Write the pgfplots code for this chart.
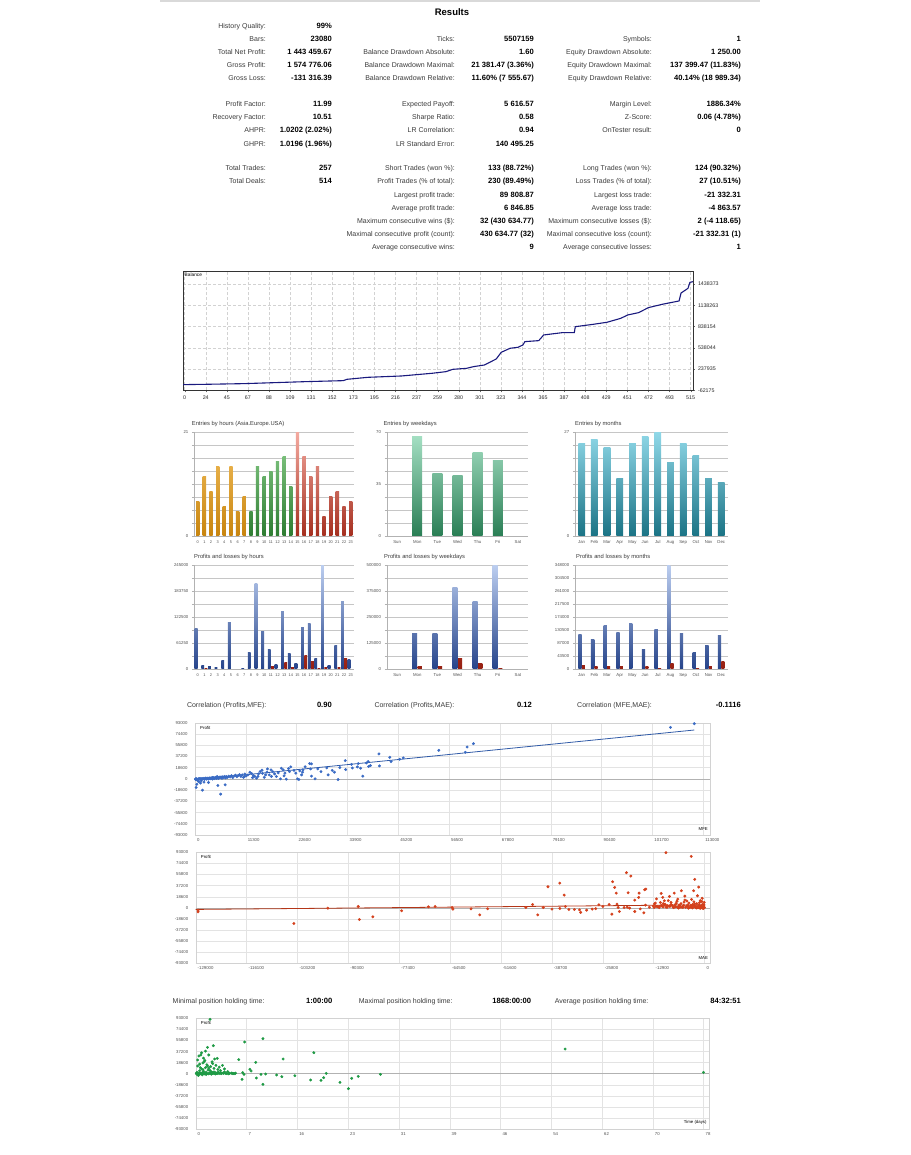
\documentclass[border=0pt]{standalone}
\usepackage{fontspec}
\setmainfont{Liberation Sans}
\usepackage{pgfplots}
\pgfplotsset{compat=1.18}

\definecolor{lab}{HTML}{3A3A3A}
\definecolor{tick}{HTML}{505050}
\definecolor{OL}{HTML}{F5C262}
\definecolor{OD}{HTML}{C8850F}
\definecolor{GL}{HTML}{8FD28F}
\definecolor{GD}{HTML}{2E7D32}
\definecolor{RL}{HTML}{F4AAA0}
\definecolor{RD}{HTML}{A52F1F}
\definecolor{WL}{HTML}{A8E2C6}
\definecolor{WD}{HTML}{2A7E55}
\definecolor{ML}{HTML}{90D8E8}
\definecolor{MD}{HTML}{1B7385}
\definecolor{BL}{HTML}{BCCEF0}
\definecolor{BD}{HTML}{26448A}
\definecolor{PL}{HTML}{E0604C}
\definecolor{PD}{HTML}{962012}
\definecolor{balc}{HTML}{1A1A7E}
\definecolor{mfe}{HTML}{3A6BC4}
\definecolor{mae}{HTML}{D4401C}
\definecolor{hold}{HTML}{1F9A45}

\newcommand\fs[1]{\fontsize{#1}{#1}\selectfont}
% one shaded bar: x, y, light, dark, axis max, options
\newcommand\gbar[6]{\edef\tmp{\noexpand\addplot[ybar,draw=none,#6,top color=#3!\fpeval{round(100*#2/#5)}!#4,bottom color=#4] coordinates {(#1,#2)};}\tmp}
\newcommand\slab[3]{\node[anchor=base east,inner sep=0pt,font=\fs{7},text=lab] at (#1pt,-#2pt) {#3};}
\newcommand\sval[3]{\node[anchor=base east,inner sep=0pt,font=\bfseries\fs{7.6}] at (#1pt,-#2pt) {#3};}
\newcommand\llab[3]{\node[anchor=base west,inner sep=0pt,font=\fs{7},text=lab] at (#1pt,-#2pt) {#3};}

\pgfplotsset{
  barchart/.style={scale only axis, anchor=south west, ymin=0, enlargelimits=false, scaled ticks=false,
    axis x line=bottom, axis y line=left, axis line style={draw=gray!60,-},
    ymajorgrids, grid style={gray!45, line width=0.35pt},
    tick align=outside, major tick length=2.5pt, ytick style={gray!60}, xtick style={draw=none},
    tick label style={font=\fs{4.3}, text=tick}, xticklabel style={yshift=1pt}},
  scat/.style={scale only axis, anchor=south west, xmajorgrids, ymajorgrids, scaled ticks=false,
    grid style={gray!22, line width=0.4pt}, axis line style={gray!35}, major tick length=0pt,
    ymin=-93000, ymax=93000,
    ytick={-93000,-74400,-55800,-37200,-18600,0,18600,37200,55800,74400,93000},
    yticklabels={-93000,-74400,-55800,-37200,-18600,0,18600,37200,55800,74400,93000},
    tick label style={font=\fs{4.3}, text=tick},
    xticklabel style={anchor=north west, xshift=-1.5pt},
    yticklabel style={xshift=-4pt},
    extra y ticks={0}, extra y tick labels={},
    extra y tick style={grid style={gray!60, line width=0.5pt}}},
}

\begin{document}
\begin{tikzpicture}
\path[use as bounding box] (0pt,0pt) rectangle (910pt,-1155pt);
\fill[gray!30] (160pt,0pt) rectangle (760pt,-2.5pt);
\node[font=\bfseries\fs{9.5}] at (452pt,-11.7pt) {Results};

% ---- statistics table
\slab{266}{28.2}{History Quality:}\sval{332}{28.2}{99\%}
\slab{266}{41.4}{Bars:}\sval{332}{41.4}{23080}
\slab{455}{41.4}{Ticks:}\sval{534}{41.4}{5507159}
\slab{652}{41.4}{Symbols:}\sval{741}{41.4}{1}
\slab{266}{54.5}{Total Net Profit:}\sval{332}{54.5}{1 443 459.67}
\slab{455}{54.5}{Balance Drawdown Absolute:}\sval{534}{54.5}{1.60}
\slab{652}{54.5}{Equity Drawdown Absolute:}\sval{741}{54.5}{1 250.00}
\slab{266}{67.7}{Gross Profit:}\sval{332}{67.7}{1 574 776.06}
\slab{455}{67.7}{Balance Drawdown Maximal:}\sval{534}{67.7}{21 381.47 (3.36\%)}
\slab{652}{67.7}{Equity Drawdown Maximal:}\sval{741}{67.7}{137 399.47 (11.83\%)}
\slab{266}{80.9}{Gross Loss:}\sval{332}{80.9}{-131 316.39}
\slab{455}{80.9}{Balance Drawdown Relative:}\sval{534}{80.9}{11.60\% (7 555.67)}
\slab{652}{80.9}{Equity Drawdown Relative:}\sval{741}{80.9}{40.14\% (18 989.34)}
\slab{266}{106.7}{Profit Factor:}\sval{332}{106.7}{11.99}
\slab{455}{106.7}{Expected Payoff:}\sval{534}{106.7}{5 616.57}
\slab{652}{106.7}{Margin Level:}\sval{741}{106.7}{1886.34\%}
\slab{266}{119.8}{Recovery Factor:}\sval{332}{119.8}{10.51}
\slab{455}{119.8}{Sharpe Ratio:}\sval{534}{119.8}{0.58}
\slab{652}{119.8}{Z-Score:}\sval{741}{119.8}{0.06 (4.78\%)}
\slab{266}{133}{AHPR:}\sval{332}{133}{1.0202 (2.02\%)}
\slab{455}{133}{LR Correlation:}\sval{534}{133}{0.94}
\slab{652}{133}{OnTester result:}\sval{741}{133}{0}
\slab{266}{146.1}{GHPR:}\sval{332}{146.1}{1.0196 (1.96\%)}
\slab{455}{146.1}{LR Standard Error:}\sval{534}{146.1}{140 495.25}
\slab{266}{170.8}{Total Trades:}\sval{332}{170.8}{257}
\slab{455}{170.8}{Short Trades (won \%):}\sval{534}{170.8}{133 (88.72\%)}
\slab{652}{170.8}{Long Trades (won \%):}\sval{741}{170.8}{124 (90.32\%)}
\slab{266}{184}{Total Deals:}\sval{332}{184}{514}
\slab{455}{184}{Profit Trades (\% of total):}\sval{534}{184}{230 (89.49\%)}
\slab{652}{184}{Loss Trades (\% of total):}\sval{741}{184}{27 (10.51\%)}
\slab{455}{197.2}{Largest profit trade:}\sval{534}{197.2}{89 808.87}
\slab{652}{197.2}{Largest loss trade:}\sval{741}{197.2}{-21 332.31}
\slab{455}{210.4}{Average profit trade:}\sval{534}{210.4}{6 846.85}
\slab{652}{210.4}{Average loss trade:}\sval{741}{210.4}{-4 863.57}
\slab{455}{223.5}{Maximum consecutive wins (\$):}\sval{534}{223.5}{32 (430 634.77)}
\slab{652}{223.5}{Maximum consecutive losses (\$):}\sval{741}{223.5}{2 (-4 118.65)}
\slab{455}{236.7}{Maximal consecutive profit (count):}\sval{534}{236.7}{430 634.77 (32)}
\slab{652}{236.7}{Maximal consecutive loss (count):}\sval{741}{236.7}{-21 332.31 (1)}
\slab{455}{249.9}{Average consecutive wins:}\sval{534}{249.9}{9}
\slab{652}{249.9}{Average consecutive losses:}\sval{741}{249.9}{1}

% ---- balance
\begin{axis}[scale only axis, anchor=south west, at={(183pt,-390.3pt)}, width=510pt, height=119.3pt,
  xmin=1, xmax=517.1, ymin=-62175, ymax=1621900, scaled ticks=false,
  xtick={2.67,24,45.33,66.67,88,109.33,130.67,152,173.33,194.67,216,237.33,258.67,280,301.33,322.67,344,365.33,386.67,408,429.33,450.67,472,493.33,514.67},
  xticklabels={0,24,45,67,88,109,131,152,173,195,216,237,259,280,301,323,344,365,387,408,429,451,472,493,515},
  ytick={-62175,237935,538044,838154,1138263,1438373},
  yticklabels={-62175,237935,538044,838154,1138263,1438373},
  yticklabel pos=right, xtick pos=bottom, ytick pos=right,
  xmajorgrids, ymajorgrids, grid style={densely dashed, gray!35, line width=0.4pt},
  axis line style={black!80, line width=0.5pt},
  tick align=outside, major tick length=2pt, tick style={black!60},
  tick label style={font=\fs{5.3}, text=black!85},
  yticklabel style={xshift=-0.5pt}]
\addplot[balc, line width=1.1pt] coordinates {
(1,17800)(24,22500)(63,32000)(94,46000)(125,60000)(163,74000)(167,93000)(188,121000)
(222,140000)(253,178000)(267,201000)(274,234000)(288,248000)(295,272000)(306,295000)
(318,380000)(323,474000)(332,531000)(340,545000)(345,578000)(347,625000)(361,639000)
(366,719000)(385,752000)(397,752000)(398,836000)(416,869000)(430,898000)(444,954000)
(451,1001000)(462,1034000)(472,1105000)(486,1152000)(503,1199000)(505,1311000)
(512,1377000)(514,1462000)(517,1471000)};
\node[anchor=north west, font=\fs{4.8}, inner sep=1.5pt] at (rel axis cs:0,1) {Balance};
\end{axis}

% ---- entries by hours
\node[anchor=west, font=\fs{5.8}, text=lab, inner sep=0pt] at (191.7pt,-424pt) {Entries by hours (Asia.Europe.USA)};
\begin{axis}[barchart, at={(194.4pt,-535.7pt)}, width=159.6pt, height=103.4pt,
  xmin=-0.5, xmax=23.5, ymax=21,
  ytick={0,2.625,5.25,7.875,10.5,13.125,15.75,18.375,21}, yticklabels={0,,,,,,,,21},
  xtick={0,1,2,3,4,5,6,7,8,9,10,11,12,13,14,15,16,17,18,19,20,21,22,23},
  xticklabels={0,1,2,3,4,5,6,7,8,9,10,11,12,13,14,15,16,17,18,19,20,21,22,23},
  xticklabel style={font=\fs{3.9}}]
\gbar{0}{7}{OL}{OD}{21}{bar width=3.3pt,bar shift=0pt}
\gbar{1}{12}{OL}{OD}{21}{bar width=3.3pt,bar shift=0pt}
\gbar{2}{9}{OL}{OD}{21}{bar width=3.3pt,bar shift=0pt}
\gbar{3}{14}{OL}{OD}{21}{bar width=3.3pt,bar shift=0pt}
\gbar{4}{6}{OL}{OD}{21}{bar width=3.3pt,bar shift=0pt}
\gbar{5}{14}{OL}{OD}{21}{bar width=3.3pt,bar shift=0pt}
\gbar{6}{5}{OL}{OD}{21}{bar width=3.3pt,bar shift=0pt}
\gbar{7}{8}{OL}{OD}{21}{bar width=3.3pt,bar shift=0pt}
\gbar{8}{5}{GL}{GD}{21}{bar width=3.3pt,bar shift=0pt}
\gbar{9}{14}{GL}{GD}{21}{bar width=3.3pt,bar shift=0pt}
\gbar{10}{12}{GL}{GD}{21}{bar width=3.3pt,bar shift=0pt}
\gbar{11}{13}{GL}{GD}{21}{bar width=3.3pt,bar shift=0pt}
\gbar{12}{15}{GL}{GD}{21}{bar width=3.3pt,bar shift=0pt}
\gbar{13}{16}{GL}{GD}{21}{bar width=3.3pt,bar shift=0pt}
\gbar{14}{10}{GL}{GD}{21}{bar width=3.3pt,bar shift=0pt}
\gbar{15}{21}{RL}{RD}{21}{bar width=3.3pt,bar shift=0pt}
\gbar{16}{16}{RL}{RD}{21}{bar width=3.3pt,bar shift=0pt}
\gbar{17}{12}{RL}{RD}{21}{bar width=3.3pt,bar shift=0pt}
\gbar{18}{14}{RL}{RD}{21}{bar width=3.3pt,bar shift=0pt}
\gbar{19}{4}{RL}{RD}{21}{bar width=3.3pt,bar shift=0pt}
\gbar{20}{8}{RL}{RD}{21}{bar width=3.3pt,bar shift=0pt}
\gbar{21}{9}{RL}{RD}{21}{bar width=3.3pt,bar shift=0pt}
\gbar{22}{6}{RL}{RD}{21}{bar width=3.3pt,bar shift=0pt}
\gbar{23}{7}{RL}{RD}{21}{bar width=3.3pt,bar shift=0pt}
\end{axis}

% ---- entries by weekdays
\node[anchor=west, font=\fs{5.8}, text=lab, inner sep=0pt] at (383.3pt,-424pt) {Entries by weekdays};
\begin{axis}[barchart, at={(387pt,-535.7pt)}, width=141pt, height=103.4pt,
  xmin=-0.5, xmax=6.5, ymax=70,
  ytick={0,8.75,17.5,26.25,35,43.75,52.5,61.25,70}, yticklabels={0,,,,35,,,,70},
  xtick={0,1,2,3,4,5,6}, xticklabels={Sun,Mon,Tue,Wed,Thu,Fri,Sat}]
\gbar{1}{67}{WL}{WD}{70}{bar width=10pt,bar shift=0pt}
\gbar{2}{42}{WL}{WD}{70}{bar width=10pt,bar shift=0pt}
\gbar{3}{41}{WL}{WD}{70}{bar width=10pt,bar shift=0pt}
\gbar{4}{56}{WL}{WD}{70}{bar width=10pt,bar shift=0pt}
\gbar{5}{51}{WL}{WD}{70}{bar width=10pt,bar shift=0pt}
\end{axis}

% ---- entries by months
\node[anchor=west, font=\fs{5.8}, text=lab, inner sep=0pt] at (575pt,-424pt) {Entries by months};
\begin{axis}[barchart, at={(575.3pt,-535.7pt)}, width=152.3pt, height=103.4pt,
  xmin=-0.5, xmax=11.5, ymax=27,
  ytick={0,3.375,6.75,10.125,13.5,16.875,20.25,23.625,27}, yticklabels={0,,,,,,,,27},
  xtick={0,1,2,3,4,5,6,7,8,9,10,11},
  xticklabels={Jan,Feb,Mar,Apr,May,Jun,Jul,Aug,Sep,Oct,Nov,Dec}]
\gbar{0}{24}{ML}{MD}{27}{bar width=6.7pt,bar shift=0pt}
\gbar{1}{25}{ML}{MD}{27}{bar width=6.7pt,bar shift=0pt}
\gbar{2}{23}{ML}{MD}{27}{bar width=6.7pt,bar shift=0pt}
\gbar{3}{15}{ML}{MD}{27}{bar width=6.7pt,bar shift=0pt}
\gbar{4}{24}{ML}{MD}{27}{bar width=6.7pt,bar shift=0pt}
\gbar{5}{26}{ML}{MD}{27}{bar width=6.7pt,bar shift=0pt}
\gbar{6}{27}{ML}{MD}{27}{bar width=6.7pt,bar shift=0pt}
\gbar{7}{19}{ML}{MD}{27}{bar width=6.7pt,bar shift=0pt}
\gbar{8}{24}{ML}{MD}{27}{bar width=6.7pt,bar shift=0pt}
\gbar{9}{21}{ML}{MD}{27}{bar width=6.7pt,bar shift=0pt}
\gbar{10}{15}{ML}{MD}{27}{bar width=6.7pt,bar shift=0pt}
\gbar{11}{14}{ML}{MD}{27}{bar width=6.7pt,bar shift=0pt}
\end{axis}

% ---- profits and losses by hours
\node[anchor=west, font=\fs{5.8}, text=lab, inner sep=0pt] at (194pt,-557pt) {Profits and losses by hours};
\begin{axis}[barchart, at={(194.4pt,-668.7pt)}, width=159.6pt, height=103.4pt,
  xmin=-0.5, xmax=23.5, ymax=245000,
  ytick={0,30625,61250,91875,122500,153125,183750,214375,245000},
  yticklabels={0,,61250,,122500,,183750,,245000},
  xtick={0,1,2,3,4,5,6,7,8,9,10,11,12,13,14,15,16,17,18,19,20,21,22,23},
  xticklabels={0,1,2,3,4,5,6,7,8,9,10,11,12,13,14,15,16,17,18,19,20,21,22,23},
  xticklabel style={font=\fs{3.9}}]
\gbar{0}{94800}{BL}{BD}{245000}{bar width=2.8pt,bar shift=-1.6pt}
\gbar{1}{7900}{BL}{BD}{245000}{bar width=2.8pt,bar shift=-1.6pt}
\gbar{2}{5500}{BL}{BD}{245000}{bar width=2.8pt,bar shift=-1.6pt}
\gbar{3}{3200}{BL}{BD}{245000}{bar width=2.8pt,bar shift=-1.6pt}
\gbar{4}{19000}{BL}{BD}{245000}{bar width=2.8pt,bar shift=-1.6pt}
\gbar{5}{109000}{BL}{BD}{245000}{bar width=2.8pt,bar shift=-1.6pt}
\gbar{6}{1000}{BL}{BD}{245000}{bar width=2.8pt,bar shift=-1.6pt}
\gbar{7}{1500}{BL}{BD}{245000}{bar width=2.8pt,bar shift=-1.6pt}
\gbar{8}{38000}{BL}{BD}{245000}{bar width=2.8pt,bar shift=-1.6pt}
\gbar{9}{203000}{BL}{BD}{245000}{bar width=2.8pt,bar shift=-1.6pt}
\gbar{10}{89300}{BL}{BD}{245000}{bar width=2.8pt,bar shift=-1.6pt}
\gbar{11}{45800}{BL}{BD}{245000}{bar width=2.8pt,bar shift=-1.6pt}
\gbar{12}{9500}{BL}{BD}{245000}{bar width=2.8pt,bar shift=-1.6pt}
\gbar{13}{135000}{BL}{BD}{245000}{bar width=2.8pt,bar shift=-1.6pt}
\gbar{14}{37100}{BL}{BD}{245000}{bar width=2.8pt,bar shift=-1.6pt}
\gbar{15}{12600}{BL}{BD}{245000}{bar width=2.8pt,bar shift=-1.6pt}
\gbar{16}{98800}{BL}{BD}{245000}{bar width=2.8pt,bar shift=-1.6pt}
\gbar{17}{106000}{BL}{BD}{245000}{bar width=2.8pt,bar shift=-1.6pt}
\gbar{18}{25300}{BL}{BD}{245000}{bar width=2.8pt,bar shift=-1.6pt}
\gbar{19}{245000}{BL}{BD}{245000}{bar width=2.8pt,bar shift=-1.6pt}
\gbar{20}{7900}{BL}{BD}{245000}{bar width=2.8pt,bar shift=-1.6pt}
\gbar{21}{56100}{BL}{BD}{245000}{bar width=2.8pt,bar shift=-1.6pt}
\gbar{22}{160000}{BL}{BD}{245000}{bar width=2.8pt,bar shift=-1.6pt}
\gbar{23}{21300}{BL}{BD}{245000}{bar width=2.8pt,bar shift=-1.6pt}
\gbar{1}{1500}{PL}{PD}{245000}{bar width=2.8pt,bar shift=1.6pt}
\gbar{2}{800}{PL}{PD}{245000}{bar width=2.8pt,bar shift=1.6pt}
\gbar{6}{600}{PL}{PD}{245000}{bar width=2.8pt,bar shift=1.6pt}
\gbar{7}{800}{PL}{PD}{245000}{bar width=2.8pt,bar shift=1.6pt}
\gbar{11}{4700}{PL}{PD}{245000}{bar width=2.8pt,bar shift=1.6pt}
\gbar{13}{15800}{PL}{PD}{245000}{bar width=2.8pt,bar shift=1.6pt}
\gbar{14}{3200}{PL}{PD}{245000}{bar width=2.8pt,bar shift=1.6pt}
\gbar{16}{30800}{PL}{PD}{245000}{bar width=2.8pt,bar shift=1.6pt}
\gbar{17}{17400}{PL}{PD}{245000}{bar width=2.8pt,bar shift=1.6pt}
\gbar{18}{1500}{PL}{PD}{245000}{bar width=2.8pt,bar shift=1.6pt}
\gbar{19}{3200}{PL}{PD}{245000}{bar width=2.8pt,bar shift=1.6pt}
\gbar{21}{3200}{PL}{PD}{245000}{bar width=2.8pt,bar shift=1.6pt}
\gbar{22}{25300}{PL}{PD}{245000}{bar width=2.8pt,bar shift=1.6pt}
\end{axis}

% ---- profits and losses by weekdays
\node[anchor=west, font=\fs{5.8}, text=lab, inner sep=0pt] at (384pt,-557pt) {Profits and losses by weekdays};
\begin{axis}[barchart, at={(387pt,-668.7pt)}, width=141pt, height=103.4pt,
  xmin=-0.5, xmax=6.5, ymax=500000,
  ytick={0,62500,125000,187500,250000,312500,375000,437500,500000},
  yticklabels={0,,125000,,250000,,375000,,500000},
  xtick={0,1,2,3,4,5,6}, xticklabels={Sun,Mon,Tue,Wed,Thu,Fri,Sat}]
\gbar{1}{172600}{BL}{BD}{500000}{bar width=5pt,bar shift=-2.6pt}
\gbar{2}{172600}{BL}{BD}{500000}{bar width=5pt,bar shift=-2.6pt}
\gbar{3}{392000}{BL}{BD}{500000}{bar width=5pt,bar shift=-2.6pt}
\gbar{4}{327400}{BL}{BD}{500000}{bar width=5pt,bar shift=-2.6pt}
\gbar{5}{500000}{BL}{BD}{500000}{bar width=5pt,bar shift=-2.6pt}
\gbar{1}{12900}{PL}{PD}{500000}{bar width=4.2pt,bar shift=2.6pt}
\gbar{2}{12900}{PL}{PD}{500000}{bar width=4.2pt,bar shift=2.6pt}
\gbar{3}{51600}{PL}{PD}{500000}{bar width=4.2pt,bar shift=2.6pt}
\gbar{4}{27400}{PL}{PD}{500000}{bar width=4.2pt,bar shift=2.6pt}
\gbar{5}{3200}{PL}{PD}{500000}{bar width=4.2pt,bar shift=2.6pt}
\end{axis}

% ---- profits and losses by months
\node[anchor=west, font=\fs{5.8}, text=lab, inner sep=0pt] at (576pt,-557pt) {Profits and losses by months};
\begin{axis}[barchart, at={(575.3pt,-668.7pt)}, width=152.3pt, height=103.4pt,
  xmin=-0.5, xmax=11.5, ymax=348000,
  ytick={0,43500,87000,130500,174000,217500,261000,304500,348000},
  yticklabels={0,43500,87000,130500,174000,217500,261000,304500,348000},
  xtick={0,1,2,3,4,5,6,7,8,9,10,11},
  xticklabels={Jan,Feb,Mar,Apr,May,Jun,Jul,Aug,Sep,Oct,Nov,Dec}]
\gbar{0}{116700}{BL}{BD}{348000}{bar width=3.3pt,bar shift=-1.7pt}
\gbar{1}{97700}{BL}{BD}{348000}{bar width=3.3pt,bar shift=-1.7pt}
\gbar{2}{147000}{BL}{BD}{348000}{bar width=3.3pt,bar shift=-1.7pt}
\gbar{3}{123500}{BL}{BD}{348000}{bar width=3.3pt,bar shift=-1.7pt}
\gbar{4}{153800}{BL}{BD}{348000}{bar width=3.3pt,bar shift=-1.7pt}
\gbar{5}{64000}{BL}{BD}{348000}{bar width=3.3pt,bar shift=-1.7pt}
\gbar{6}{133600}{BL}{BD}{348000}{bar width=3.3pt,bar shift=-1.7pt}
\gbar{7}{348000}{BL}{BD}{348000}{bar width=3.3pt,bar shift=-1.7pt}
\gbar{8}{119000}{BL}{BD}{348000}{bar width=3.3pt,bar shift=-1.7pt}
\gbar{9}{53900}{BL}{BD}{348000}{bar width=3.3pt,bar shift=-1.7pt}
\gbar{10}{77500}{BL}{BD}{348000}{bar width=3.3pt,bar shift=-1.7pt}
\gbar{11}{111100}{BL}{BD}{348000}{bar width=3.3pt,bar shift=-1.7pt}
\gbar{0}{11200}{PL}{PD}{348000}{bar width=3pt,bar shift=1.7pt}
\gbar{1}{6700}{PL}{PD}{348000}{bar width=3pt,bar shift=1.7pt}
\gbar{2}{6700}{PL}{PD}{348000}{bar width=3pt,bar shift=1.7pt}
\gbar{3}{9000}{PL}{PD}{348000}{bar width=3pt,bar shift=1.7pt}
\gbar{5}{9000}{PL}{PD}{348000}{bar width=3pt,bar shift=1.7pt}
\gbar{6}{3400}{PL}{PD}{348000}{bar width=3pt,bar shift=1.7pt}
\gbar{7}{19100}{PL}{PD}{348000}{bar width=3pt,bar shift=1.7pt}
\gbar{9}{2200}{PL}{PD}{348000}{bar width=3pt,bar shift=1.7pt}
\gbar{10}{9000}{PL}{PD}{348000}{bar width=3pt,bar shift=1.7pt}
\gbar{11}{24700}{PL}{PD}{348000}{bar width=3pt,bar shift=1.7pt}
\end{axis}

% ---- correlations
\llab{186.8}{707.5}{Correlation (Profits,MFE):}\sval{332}{707.5}{0.90}
\llab{374.3}{707.5}{Correlation (Profits,MAE):}\sval{532}{707.5}{0.12}
\llab{577}{707.5}{Correlation (MFE,MAE):}\sval{741}{707.5}{-0.1116}

% ---- profit vs MFE
\begin{axis}[scat, at={(195pt,-835pt)}, width=515pt, height=112.3pt,
  xmin=0, xmax=114500,
  xtick={0,11300,22600,33900,45200,56500,67800,79100,90400,101700,113000},
  xticklabels={0,11300,22600,33900,45200,56500,67800,79100,90400,101700,113000}]
\addplot[only marks, mark=*, mark size=1.25pt, mfe] coordinates {
(200,-800)(350,-1500)(500,-400)(650,-1200)(800,200)(900,-600)(1000,400)(1150,-300)
(1300,600)(1400,-1000)(1550,300)(1700,-200)(1850,800)(2000,100)(2100,-900)(2250,1000)
(2400,300)(2550,-400)(2700,1200)(2850,500)(3000,-200)(3150,1500)(3300,700)(3450,200)
(3600,1800)(3750,900)(3900,-300)(4050,2000)(4200,1200)(4350,500)(4500,2300)(4650,1400)
(4800,700)(4950,2600)(5100,1600)(5250,800)(5400,2900)(5600,1900)(5800,3200)(6000,1000)
(6200,3500)(6400,2200)(6600,4000)(6800,1500)(7000,3800)(7200,2500)(7500,4500)(7800,3000)
(8100,5200)(8400,2000)(8700,4800)(9000,6000)(9300,3500)(9600,5500)(9900,7000)(10200,4000)
(10500,6500)(10800,2500)(11100,8000)(11400,5000)
(250,-14300)(400,-9000)(1650,-18700)(1400,-3300)(2000,-5500)(1200,-7000)(5100,-11000)
(5700,-25300)(6700,-9900)(800,-4500)(3000,-6000)(600,-2500)(4900,3850)(3900,2200)
(2350,1100)(150,-1000)(100,0)(300,300)
(11000,3850)(11800,6600)(12200,11000)(12600,8800)(13300,3850)(13700,1100)(14100,8250)
(14500,12100)(14900,14300)(15700,6600)(16100,16500)(16500,6600)(16900,14850)(17700,8250)
(18100,3850)(19000,0)(19200,17600)(19600,14850)(20000,9350)(20300,-550)(20800,17050)
(21300,19800)(22400,9350)(22800,0)(23100,-1100)(23300,13200)(23700,6600)(23900,11000)
(25500,25300)(25900,24750)(25700,16500)(25900,4400)(26700,0)(27300,16500)(29300,18150)
(29600,6600)(31000,11000)(31800,-1100)(32200,18700)(33400,30250)(33500,15400)(36100,19800)
(36300,25300)(36800,17600)(37300,4400)(38100,26400)(38500,28600)(38600,20350)(41000,21450)
(40900,41250)(43300,35750)(43600,28600)(45500,32450)(46300,34650)(54200,47300)(60100,44000)
(60500,52800)(61900,58300)(105700,85250)(111000,91300)
(12800,2000)(13000,5500)(14000,4000)(15000,9000)(15400,2500)(16000,11000)(17000,4000)
(17300,12000)(18500,10000)(19800,5000)(21000,12000)(22000,14000)(24000,15000)(24500,20000)
(28000,12000)(30500,14000)(34800,24000)(35000,18000)(39000,22000)};
\addplot[no marks, mfe!85!black, line width=0.8pt] coordinates {(0,-1600)(111000,80900)};
\node[anchor=north west, font=\fs{4.3}, inner sep=1pt] at ([xshift=4pt,yshift=-2pt]rel axis cs:0,1) {Profit};
\node[anchor=south east, font=\fs{4.3}, inner sep=1pt] at ([xshift=-1pt,yshift=3pt]rel axis cs:1,0) {MFE};
\end{axis}

% ---- profit vs MAE
\begin{axis}[scat, at={(195.7pt,-963.3pt)}, width=514.4pt, height=111pt,
  xmin=-129000, xmax=1400,
  xtick={-129000,-116100,-103200,-90300,-77400,-64500,-51600,-38700,-25800,-12900,0},
  xticklabels={-129000,-116100,-103200,-90300,-77400,-64500,-51600,-38700,-25800,-12900,0}]
\addplot[only marks, mark=*, mark size=1.25pt, mae] coordinates {
(-128400,-6700)(-128400,-3900)(-104100,-26300)(-95500,-560)(-87800,2200)(-87500,-19600)
(-84100,-15100)(-76800,-5000)(-70000,1700)(-68300,2200)(-64000,560)(-63800,-2200)
(-59200,-1700)(-57000,-11800)(-55000,-1700)(-45300,560)(-43600,5600)(-42300,-11800)
(-40900,560)(-39700,35300)(-38700,-2200)(-36700,41400)(-36700,-1100)(-35600,21300)
(-35300,2200)(-34400,-2800)(-33000,-2800)(-31700,-3400)(-31400,-7800)(-29900,-3900)
(-28500,-2200)(-27600,-1500)(-26800,5000)(-25800,2200)(-24200,5600)(-23500,-10600)
(-23300,43700)(-22800,34200)(-22400,24600)(-22200,6200)(-21900,560)(-21600,-6200)
(-19800,58800)(-18700,53200)(-19400,25200)(-20400,560)(-19600,1000)(-19000,-500)
(-17700,12900)(-17700,-6200)(-16600,24600)(-16700,17400)(-16300,-1700)(-15400,-8400)
(-15200,30200)(-14900,31400)(-12700,6700)(-12300,2500)(-11000,24100)(-10600,17400)
(-10200,11800)(-9800,92400)(-8900,19000)(-7700,24600)(-6800,14600)(-5900,28600)
(-5000,19600)(-3400,86200)(-2500,47600)(-2800,28600)(-1500,34700)(-1800,20200)
(-12000,2000)(-11500,500)(-11000,4000)(-10500,1500)(-10000,6000)(-9500,800)(-9000,3000)
(-8500,9000)(-8000,1200)(-7500,5000)(-7000,11000)(-6500,2500)(-6000,7000)(-5500,500)
(-5000,13000)(-4500,3500)(-4000,8000)(-3500,1000)(-3000,5500)(-2700,10000)(-2400,2000)
(-2000,7000)(-1700,300)(-1400,4500)(-1100,12000)(-800,1500)(-500,6000)(-300,800)
(-200,3000)(-100,9000)(-50,200)(-600,16000)(-900,3000)(-1300,8500)(-2200,1000)
(-3300,14000)(-4200,4500)(-5200,9500)(-6200,1000)(-7200,7500)(-8200,3800)(-9200,12000)
(-10200,5000)(-11200,9000)(-12200,15000)(-13000,3000)(-14000,1000)(-15000,4500)
(-500,-500)(-300,-1200)(-1000,-800)(-2000,-300)(-150,5000)(-700,10500)(-1500,2500)
(-2500,6500)(-3500,4000)(-4500,11500)(-5500,2000)(-6500,4500)(-7500,1500)(-8500,5500)
(-9500,4000)(-10500,7000)(-11500,2500)(-12500,8000)
(-7800,300)(-7300,1800)(-6800,600)(-6300,3500)(-5800,1200)(-5300,4200)(-4800,800)
(-4300,2200)(-3800,500)(-3300,2800)(-2900,1200)(-2600,3600)(-2300,400)(-1900,2400)
(-1600,1000)(-1200,3200)(-900,500)(-700,2000)(-400,1400)(-250,2500)(-120,700)
(-8800,2100)(-9800,1200)(-10800,2800)(-11800,1500)(-12800,600)(-6600,-400)(-4100,-600)
(-3100,-200)(-1300,-300)};
\addplot[no marks, mae!85!black, line width=0.8pt] coordinates {(-129000,-2700)(0,5000)};
\node[anchor=north west, font=\fs{4.3}, inner sep=1pt] at ([xshift=4pt,yshift=-2pt]rel axis cs:0,1) {Profit};
\node[anchor=south east, font=\fs{4.3}, inner sep=1pt] at ([xshift=-1pt,yshift=3pt]rel axis cs:1,0) {MAE};
\end{axis}

% ---- holding times
\llab{172.5}{1003.5}{Minimal position holding time:}\sval{332.5}{1003.5}{1:00:00}
\llab{358.6}{1003.5}{Maximal position holding time:}\sval{531.4}{1003.5}{1868:00:00}
\llab{554.6}{1003.5}{Average position holding time:}\sval{741}{1003.5}{84:32:51}
\begin{axis}[scat, at={(195.7pt,-1129pt)}, width=513pt, height=110.7pt,
  xmin=0, xmax=78.6,
  xtick={0,7.783,15.567,23.35,31.133,38.917,46.7,54.483,62.267,70.05,77.833},
  xticklabels={0,7,16,23,31,39,46,54,62,70,78}]
\addplot[only marks, mark=*, mark size=1.25pt, hold] coordinates {
(0.1,500)(0.2,2000)(0.3,12900)(0.4,1000)(0.5,29700)(0.6,5000)(0.7,300)(0.8,31400)
(0.9,8000)(1.0,1500)(1.1,18000)(1.2,4000)(1.3,600)(1.4,22000)(1.5,10000)(1.6,2500)
(1.7,15000)(1.8,44200)(1.9,6000)(2.0,31400)(2.1,800)(2.2,91300)(2.3,12000)(2.4,3000)
(2.5,20000)(2.6,500)(2.7,47000)(2.8,9000)(2.9,24600)(3.0,1500)(3.1,14000)(3.2,400)
(3.3,25800)(3.4,7000)(3.5,2000)(3.6,11000)(3.7,300)(3.8,5000)(3.9,700)(4.1,14000)
(4.2,1200)(4.4,3000)(4.6,600)(4.9,3400)(5.2,500)(5.5,1000)(5.8,200)(6.1,800)
(0.2,-1000)(0.4,-3000)(1.0,-2000)(1.6,-1500)(2.4,-800)(3.0,-500)(0.6,16000)(1.2,26000)
(0.9,35000)(1.5,38000)(1.3,20000)(2.0,9500)(2.6,17000)(0.3,23000)(0.7,10000)(1.1,7000)
(1.8,13000)(2.2,5500)(2.8,3000)(3.4,1800)(4.0,900)(4.4,8000)(5.0,-300)
(0.15,200)(0.35,-200)(0.55,400)(0.75,-100)(0.95,600)(1.15,100)(1.35,-300)(1.55,900)
(1.75,200)(1.95,-200)(2.15,1100)(2.35,300)(2.55,1600)(2.75,700)(2.95,200)(3.15,1000)
(3.35,300)(3.55,600)(3.75,1200)(3.95,200)(4.3,500)(4.7,200)(5.1,700)(5.6,300)(6.0,100)
(6.6,23500)(7.1,-9500)(7.2,1700)(7.4,-1100)(7.5,53200)(8.3,7300)(8.5,4500)(9.2,19000)
(9.3,-7300)(10.0,-1100)(10.3,58800)(10.3,-17900)(10.7,-560)(12.4,-2200)(13.2,-5000)
(13.4,24600)(15.2,-3400)(17.6,-10600)(18.1,35300)(19.2,-11200)(19.6,-6700)(20.0,560)
(22.1,-14600)(23.4,-25200)(23.9,-7800)(24.9,-4500)(28.3,-1100)(56.6,41400)(77.8,2200)};
\node[anchor=north west, font=\fs{4.3}, inner sep=1pt] at ([xshift=4pt,yshift=-2pt]rel axis cs:0,1) {Profit};
\node[anchor=south east, font=\fs{4.3}, inner sep=1pt] at ([xshift=-1pt,yshift=3pt]rel axis cs:1,0) {Time (days)};
\end{axis}
\end{tikzpicture}
\end{document}
